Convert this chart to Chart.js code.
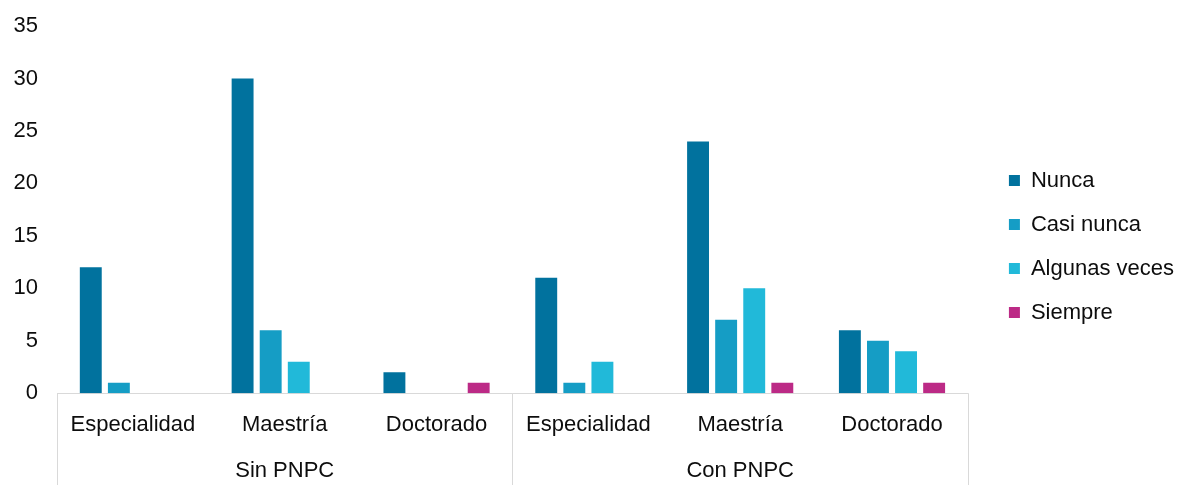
<!DOCTYPE html>
<html>
<head>
<meta charset="utf-8">
<script src="https://cdn.jsdelivr.net/npm/chart.js@4/dist/chart.umd.min.js"></script>
<style>
html,body{margin:0;padding:0;background:#fff;}
#wrap{width:1184px;height:485px;}
</style>
</head>
<body>
<div id="wrap"><canvas id="c" width="1184" height="485"></canvas></div>
<script>
const categories = ['Especialidad','Maestría','Doctorado','Especialidad','Maestría','Doctorado'];
const groups = ['Sin PNPC','Con PNPC'];
const nunca = [12, 30, 2, 11, 24, 6];
const casiNunca = [1, 6, 0, 1, 7, 5];
const algunasVeces = [0, 3, 0, 3, 10, 4];
const siempre = [0, 0, 1, 0, 1, 1];
const yTicks = [0, 5, 10, 15, 20, 25, 30, 35];

const FONT = "'Liberation Sans', Arial, sans-serif";
const LEGEND_GAP = 19;

const separators = {
  id: 'separators',
  afterDraw(chart) {
    const s = chart.scales.x2;
    const ctx = chart.ctx;
    const n = groups.length;
    ctx.save();
    ctx.strokeStyle = '#d9d9d9';
    ctx.lineWidth = 1;
    for (let i = 0; i <= n; i++) {
      const x = Math.round(s.left + i * (s.right - s.left) / n) + 0.5;
      ctx.beginPath();
      ctx.moveTo(x, chart.chartArea.bottom);
      ctx.lineTo(x, chart.height);
      ctx.stroke();
    }
    ctx.restore();
  }
};

const legendGap = {
  id: 'legendGap',
  beforeUpdate(chart) {
    const lg = chart.legend;
    if (lg && !lg._gapPatched) {
      const orig = lg.fit.bind(lg);
      lg.fit = function () { orig(); this.width += LEGEND_GAP; };
      lg._gapPatched = true;
    }
  },
  afterLayout(chart) {
    const lg = chart.legend;
    if (lg) { lg.left += LEGEND_GAP; lg.width -= LEGEND_GAP; }
  }
};

new Chart(document.getElementById('c'), {
  type: 'bar',
  data: {
    labels: categories,
    datasets: [
      {label: 'Nunca', data: nunca, backgroundColor: '#01729e', xAxisID: 'x'},
      {label: 'Casi nunca', data: casiNunca, backgroundColor: '#159dc5', xAxisID: 'x'},
      {label: 'Algunas veces', data: algunasVeces, backgroundColor: '#21b9d9', xAxisID: 'x'},
      {label: 'Siempre', data: siempre, backgroundColor: '#bc2a86', xAxisID: 'x'}
    ]
  },
  options: {
    responsive: false,
    animation: false,
    devicePixelRatio: 1,
    datasets: {bar: {categoryPercentage: 0.74, barPercentage: 0.78}},
    layout: {padding: {top: 9, left: 0, right: 0, bottom: 1}},
    plugins: {
      tooltip: {enabled: false},
      legend: {
        position: 'right',
        labels: {
          boxWidth: 11, boxHeight: 11, padding: 22,
          color: '#0d0d0d',
          font: {family: FONT, size: 22}
        }
      }
    },
    scales: {
      x: {
        type: 'category',
        position: 'bottom',
        grid: {display: false, drawTicks: false},
        border: {display: true, color: '#d9d9d9', width: 1},
        ticks: {color: '#0d0d0d', padding: 19, font: {family: FONT, size: 22}, maxRotation: 0, autoSkip: false}
      },
      x2: {
        type: 'category',
        position: 'bottom',
        labels: groups,
        offset: true,
        grid: {display: false, drawTicks: false},
        border: {display: false},
        ticks: {color: '#0d0d0d', padding: 0, font: {family: FONT, size: 22}, maxRotation: 0}
      },
      y: {
        min: 0, max: 35,
        afterBuildTicks: (s) => { s.ticks = yTicks.map(v => ({value: v})); },
        afterFit: (s) => { s.width = 57; s.paddingTop = 26; s.paddingBottom = 0; },
        grid: {display: false, drawTicks: false},
        border: {display: false},
        ticks: {color: '#0d0d0d', padding: 19, font: {family: FONT, size: 22}}
      }
    }
  },
  plugins: [separators, legendGap]
});
</script>
</body>
</html>
